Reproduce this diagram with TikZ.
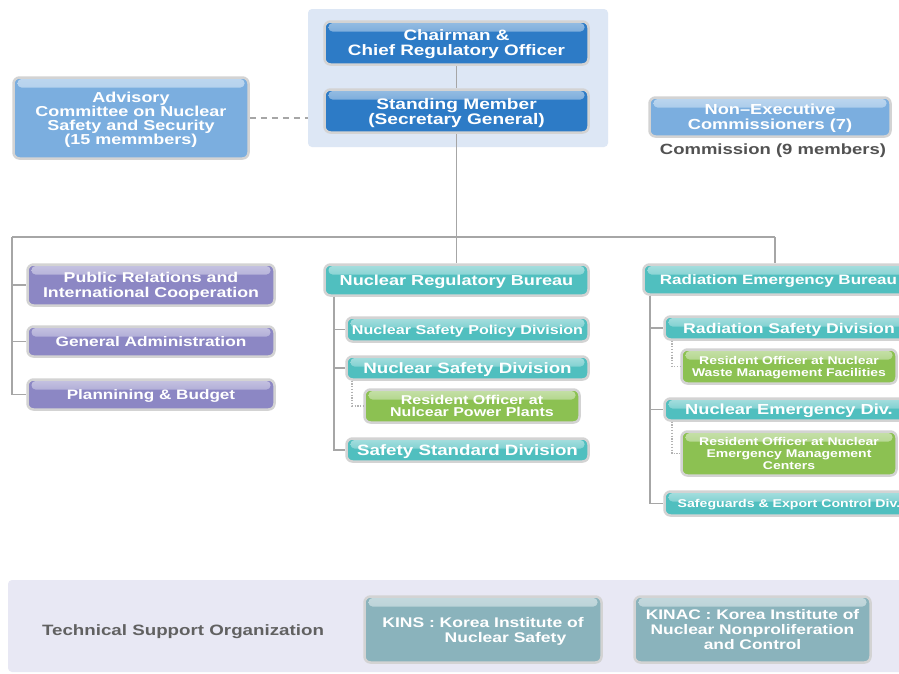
\documentclass[tikz,border=0pt]{standalone}
\usepackage{fontspec}
\setmainfont{Liberation Sans}[FakeStretch=1.25]
\definecolor{cblue}{HTML}{2D7BC6}
\definecolor{clblue}{HTML}{7BAEDF}
\definecolor{cpurp}{HTML}{8C87C4}
\definecolor{cteal}{HTML}{50BFBF}
\definecolor{cgreen}{HTML}{8CC152}
\definecolor{ckins}{HTML}{8AB3BC}
\definecolor{panela}{HTML}{DDE7F5}
\definecolor{panelb}{HTML}{E8E8F4}
\definecolor{edge}{HTML}{D3D3D3}
\definecolor{linec}{HTML}{A6A6A6}
\newcommand\fsz[2]{\fontsize{#1}{#2}\selectfont\bfseries}
\tikzset{
  bx/.style={rounded corners=6pt, draw=edge, line width=2.5pt, fill=#1, text=white,
    align=center, inner sep=0pt, text depth=0pt,
    execute at begin node={\vspace*{3pt}},
    path picture={\shade[top color=white!50!#1, bottom color=#1, rounded corners=4pt]
      ([xshift=4pt,yshift=-1.5pt]path picture bounding box.north west) rectangle
      ([xshift=-4pt,yshift=-10pt]path picture bounding box.north east);}},
  conn/.style={draw=linec, line width=1.4pt},
  dotc/.style={draw=linec!85, line width=1.3pt, dash pattern=on 1.2pt off 1.6pt},
}
\begin{document}
\begin{tikzpicture}[x=1pt,y=-1pt]
\useasboundingbox (0,0) rectangle (899,673);
\clip (0,0) rectangle (899,673);
\fill[white] (0,0) rectangle (899,673);
% panels
\node[fill=panela, rounded corners=4pt, minimum width=300pt, minimum height=138pt, inner sep=0pt] (panel) at (458,78) {};
\node[fill=panelb, rounded corners=4pt, minimum width=900pt, minimum height=92pt, inner sep=0pt] (panel2) at (458,626) {};
% top
\node[bx=cblue, minimum width=264pt, minimum height=43pt, font=\fsz{15.1}{15}] (chair) at (456.5,43) {Chairman \&\\Chief Regulatory Officer};
\node[bx=cblue, minimum width=264pt, minimum height=43pt, font=\fsz{15.3}{15}] (stand) at (456.5,111) {Standing Member\\(Secretary General)};
\node[bx=clblue, minimum width=235pt, minimum height=81pt, font=\fsz{14.4}{14}] (adv) at (131,118) {Advisory\\Committee on Nuclear\\Safety and Security\\(15 memmbers)};
\node[bx=clblue, minimum width=241pt, minimum height=39pt, font=\fsz{14.6}{15}] (nonex) at (770,117) {Non–Executive\\Commissioners (7)};
\node[text=black!68, font=\fsz{14.8}{15}] (comm) at (773,151) {Commission (9 members)};
% left branch
\node[bx=cpurp, minimum width=247pt, minimum height=41pt, font=\fsz{14.2}{15}] (pr) at (151,285) {Public Relations and\\International Cooperation};
\node[bx=cpurp, minimum width=247pt, minimum height=30pt, font=\fsz{13.8}{15}] (ga) at (151,341.5) {General Administration};
\node[bx=cpurp, minimum width=247pt, minimum height=30pt, font=\fsz{13.7}{15}] (pb) at (151,394.5) {Plannining \& Budget};
% nuclear regulatory bureau
\node[bx=cteal, minimum width=264pt, minimum height=31pt, font=\fsz{14.5}{15}] (nrb) at (456.5,280) {Nuclear Regulatory Bureau};
\node[bx=cteal, minimum width=242pt, minimum height=24pt, font=\fsz{12.9}{15}] (nspd) at (467.5,329.5) {Nuclear Safety Policy Division};
\node[bx=cteal, minimum width=242pt, minimum height=23pt, font=\fsz{15}{15}] (nsd) at (467.5,368) {Nuclear Safety Division};
\node[bx=cgreen, minimum width=215pt, minimum height=33pt, font=\fsz{12.8}{12}] (ronpp) at (472,406) {Resident Officer at\\Nulcear Power Plants};
\node[bx=cteal, minimum width=242pt, minimum height=23pt, font=\fsz{15}{15}] (ssd) at (467.5,450) {Safety Standard Division};
% radiation emergency bureau
\node[bx=cteal, minimum width=270pt, minimum height=30pt, font=\fsz{13.6}{15}] (reb) at (778.5,279.5) {Radiation Emergency Bureau};
\node[bx=cteal, minimum width=249pt, minimum height=23pt, font=\fsz{14.1}{15}] (rsd) at (789,328) {Radiation Safety Division};
\node[bx=cgreen, minimum width=215pt, minimum height=34pt, font=\fsz{11.2}{12}] (rowaste) at (789,366.5) {Resident Officer at Nuclear\\Waste Management Facilities};
\node[bx=cteal, minimum width=249pt, minimum height=22pt, font=\fsz{14.6}{15}] (ned) at (789,409.5) {Nuclear Emergency Div.};
\node[bx=cgreen, minimum width=215pt, minimum height=44pt, font=\fsz{11.2}{12}] (roemc) at (789,453.5) {Resident Officer at Nuclear\\Emergency Management\\Centers};
\node[bx=cteal, minimum width=249pt, minimum height=24pt, font=\fsz{11.3}{15}] (sg) at (789,503.5) {Safeguards \& Export Control Div.};
% bottom
\node[text=black!62, font=\fsz{15}{15}] (tso) at (183,632) {Technical Support Organization};
\node[bx=ckins, minimum width=237pt, minimum height=66pt, font=\fsz{14}{15}] (kins) at (483,629.5) {KINS : Korea Institute of\\\hspace*{45pt}Nuclear Safety};
\node[bx=ckins, minimum width=236pt, minimum height=66pt, font=\fsz{13.9}{15}] (kinac) at (752.5,629.5) {KINAC : Korea Institute of\\Nuclear Nonproliferation\\and Control};
% connectors
\coordinate (lft) at (12,237);
\coordinate (rgt) at (775,237);
\coordinate (b1) at (334,296.5);
\coordinate (b2) at (650,295.5);
\coordinate (d1) at (352,380.5);
\coordinate (d2) at (672,340.5);
\coordinate (d3) at (672,421.5);
\draw[conn] (chair) -- (stand);
\draw[conn] (stand) -- (nrb);
\draw[conn] (lft) -- (rgt);
\draw[conn] (rgt) -- (rgt |- reb.north);
\draw[conn] (lft) |- (pr.west);
\draw[conn] (lft) |- (ga.west);
\draw[conn] (lft) |- (pb.west);
\draw[conn] (b1) |- (nspd.west);
\draw[conn] (b1) |- (nsd.west);
\draw[conn] (b1) |- (ssd.west);
\draw[dotc] (d1) |- (ronpp.west);
\draw[conn] (b2) |- (rsd.west);
\draw[conn] (b2) |- (ned.west);
\draw[conn] (b2) |- (sg.west);
\draw[dotc] (d2) |- (rowaste.west);
\draw[dotc] (d3) |- (roemc.west);
\draw[conn, dash pattern=on 6pt off 5pt] (adv.east) -- (adv.east -| panel.west);
\end{tikzpicture}
\end{document}
